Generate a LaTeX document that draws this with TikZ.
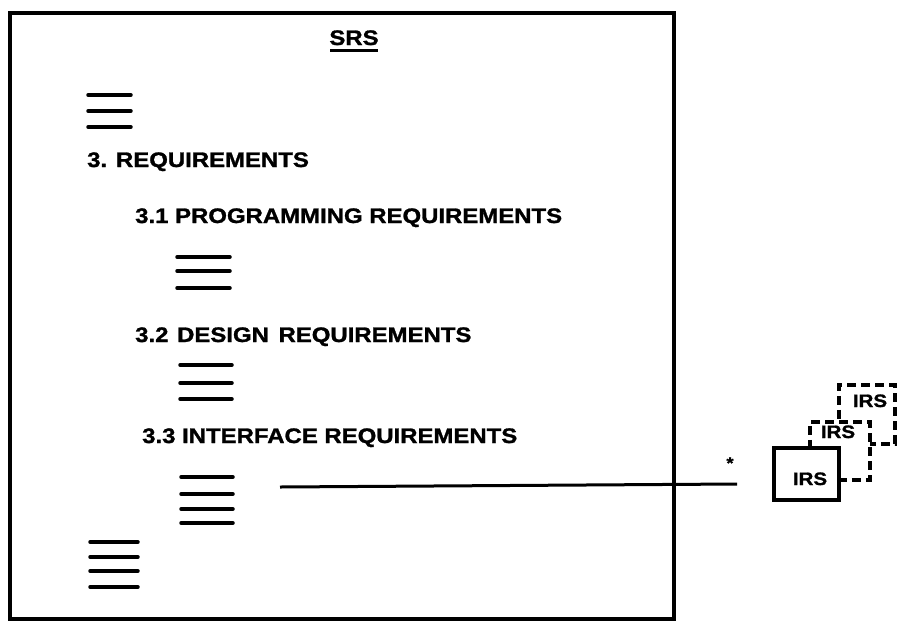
\documentclass[tikz,border=0pt]{standalone}
\usepackage{fontspec}
\newfontfamily\hv[FakeStretch=1.14,FakeBold=1.3]{Liberation Sans}
\begin{document}
\begin{tikzpicture}[x=1pt,y=-1pt,
  lbl/.style={inner sep=0pt,anchor=base west,font=\hv\bfseries\fontsize{21}{24}\selectfont},
  irslbl/.style={inner sep=0pt,anchor=base,font=\hv\bfseries\fontsize{18}{20}\selectfont},
  bar/.style={line width=3.5pt,line cap=round},
  frame/.style={line width=3.5pt,line join=miter},
  dbox/.style={draw,line width=3.5pt,dash pattern=on 9pt off 5pt,fill=white,inner sep=0pt,anchor=north west},
  sbox/.style={draw,line width=3.5pt,fill=white,inner sep=0pt,anchor=north west},
  conn/.style={line width=3pt}]
\useasboundingbox (0,0) rectangle (897,625);
\fill[white] (0,0) rectangle (897,625);
% frame
\node[frame,draw,inner sep=0pt,anchor=north west,minimum width=664pt,minimum height=606pt] (srs) at (8,11) {};
% title
\node[inner sep=0pt,anchor=base,font=\hv\bfseries\fontsize{21}{24}\selectfont] (title) at (354,45) {SRS};
\draw[line width=3pt] (330,50.5) -- (378,50.5);
% bars top
\foreach \y in {95,111,127} \draw[bar] (88,\y) -- (131,\y);
\node[lbl] (t3) at (87,167) {3. REQUIREMENTS};
\node[lbl] (t31) at (135,223) {3.1 PROGRAMMING REQUIREMENTS};
\foreach \y in {257,271,288} \draw[bar] (177,\y) -- (230,\y);
\node[lbl] (t32) at (135,342) {3.2\hspace{2pt} DESIGN\hspace{3pt} REQUIREMENTS};
\foreach \y in {365,383,399} \draw[bar] (180,\y) -- (232,\y);
\node[lbl] (t33) at (142,443) {3.3 INTERFACE REQUIREMENTS};
\foreach \y in {477,494,509,523} \draw[bar] (181,\y) -- (233,\y);
\foreach \y in {542,557,571,587} \draw[bar] (90,\y) -- (138,\y);
% connector
\coordinate (c1) at (280,487);
\coordinate (c2) at (737,484);
\draw[conn] (c1) -- (c2);
\node[inner sep=0pt,font=\hv\bfseries\fontsize{16}{18}\selectfont] (ast) at (730,463) {*};
% IRS boxes
\node[dbox,minimum width=56pt,minimum height=59pt] (irs3) at (837,383) {};
\node[irslbl] (l3) at (870,407) {IRS};
\node[dbox,minimum width=60pt,minimum height=58pt] (irs2) at (808,420) {};
\node[irslbl] (l2) at (838,438) {IRS};
\node[sbox,minimum width=65pt,minimum height=52pt] (irs1) at (772,446) {};
\node[irslbl] (l1) at (810,485) {IRS};
\end{tikzpicture}
\end{document}
